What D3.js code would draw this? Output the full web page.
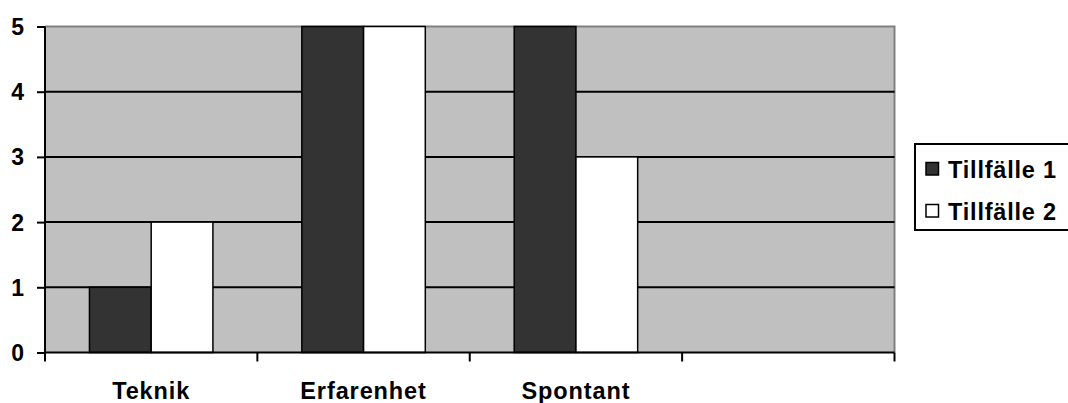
<!DOCTYPE html>
<html><head><meta charset="utf-8">
<script src="https://cdn.jsdelivr.net/npm/d3@7"></script>
<style>body{margin:0;background:#fff}svg{display:block}text{font-family:Arial,"Liberation Sans",sans-serif;font-weight:bold;fill:#000}</style>
</head><body><svg id="c" width="1068" height="403"></svg>
<script>
const categories = ["Teknik", "Erfarenhet", "Spontant", ""];
const seriesNames = ["Tillfälle 1", "Tillfälle 2"];
const tillfalle1 = [1, 5, 5, null];
const tillfalle2 = [2, 5, 3, null];
const yTicks = [0, 1, 2, 3, 4, 5];
const colors = ["#333333", "#ffffff"];

const svg = d3.select("#c");
const L = 45, R = 894.5, T = 26.5, B = 352.5;
const x = d3.scaleBand().domain(d3.range(categories.length)).range([L, R]).paddingInner(0).paddingOuter(0);
const y = d3.scaleLinear().domain([0, 5]).range([B, T]);
const inner = d3.scaleBand().domain([0, 1]).range([0, x.bandwidth()]).paddingOuter(0.72).paddingInner(0);

svg.append("rect").attr("x", L).attr("y", T).attr("width", R - L).attr("height", B - T).attr("fill", "#c0c0c0");
svg.append("path").attr("d", `M${L},${T}H${R}V${B}`).attr("fill", "none").attr("stroke", "#808080").attr("stroke-width", 2);

svg.append("g").selectAll("line").data(yTicks.filter(d => d > 0 && d < 5)).join("line")
  .attr("x1", L).attr("x2", R).attr("y1", d => y(d)).attr("y2", d => y(d))
  .attr("stroke", "#000").attr("stroke-width", 2);

const series = [tillfalle1, tillfalle2];
series.forEach((vals, si) => {
  svg.append("g").selectAll("rect").data(vals.map((v, i) => ({v, i})).filter(d => d.v != null)).join("rect")
    .attr("x", d => x(d.i) + inner(si))
    .attr("width", inner.bandwidth())
    .attr("y", d => y(d.v))
    .attr("height", d => y(0) - y(d.v))
    .attr("fill", colors[si]).attr("stroke", "#000").attr("stroke-width", 1.5);
});

const ya = svg.append("g").attr("transform", `translate(${L},0)`)
  .call(d3.axisLeft(y).tickValues(yTicks).tickFormat(d3.format("d")).tickSize(8).tickPadding(13));
ya.select(".domain").attr("stroke", "#000").attr("stroke-width", 2).attr("d", `M0,${T}V${B}`);
ya.selectAll(".tick line").attr("stroke", "#000").attr("stroke-width", 2);
ya.selectAll(".tick text").attr("font-size", 23).attr("x", -21).attr("dy", "0.35em")
  .attr("font-family", "Arial, 'Liberation Sans', sans-serif").attr("font-weight", "bold").attr("fill", "#000");

const xEdges = d3.range(categories.length + 1).map(i => L + i * x.step());
svg.append("line").attr("x1", L).attr("x2", R).attr("y1", B).attr("y2", B).attr("stroke", "#000").attr("stroke-width", 2);
svg.append("g").selectAll("line").data(xEdges).join("line")
  .attr("x1", d => d).attr("x2", d => d).attr("y1", B).attr("y2", B + 9).attr("stroke", "#000").attr("stroke-width", 2);
svg.append("g").selectAll("text").data(categories).join("text")
  .attr("x", (d, i) => x(i) + x.bandwidth() / 2).attr("y", 398.5)
  .attr("text-anchor", "middle").attr("font-size", 23.5).attr("letter-spacing", 0.9).text(d => d);

const lg = svg.append("g");
lg.append("rect").attr("x", 915).attr("y", 144).attr("width", 170).attr("height", 86)
  .attr("fill", "#fff").attr("stroke", "#000").attr("stroke-width", 2);
seriesNames.forEach((n, i) => {
  const cy = 169 + i * 42;
  lg.append("rect").attr("x", 926).attr("y", cy - 6.5).attr("width", 12.5).attr("height", 12.5)
    .attr("fill", colors[i]).attr("stroke", "#000").attr("stroke-width", 1.5);
  lg.append("text").attr("x", 948).attr("y", cy + 8.5).attr("font-size", 23.5).attr("letter-spacing", 0.8).text(n);
});
</script></body></html>
